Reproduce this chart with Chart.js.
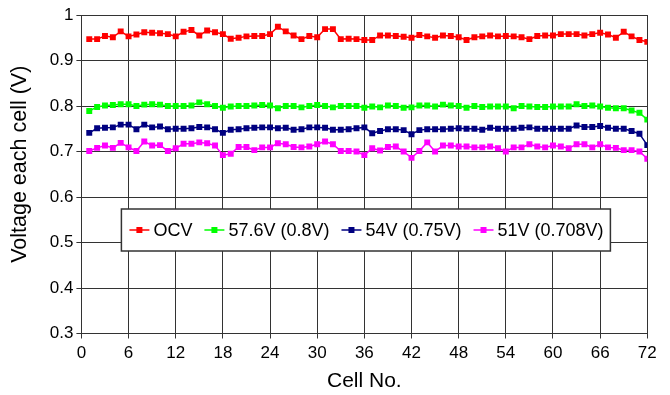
<!DOCTYPE html>
<html>
<head>
<meta charset="utf-8">
<script src="https://cdn.jsdelivr.net/npm/chart.js@4.4.1/dist/chart.umd.min.js"></script>
<style>
  html, body { margin: 0; padding: 0; background: #ffffff; }
  #wrap { width: 670px; height: 395px; position: relative; }
</style>
</head>
<body>
<div id="wrap"><canvas id="c" width="670" height="395"></canvas></div>
<script>
// ---- data ----
const cells = Array.from({length: 72}, (_, i) => i + 1);

const seriesLabels = ["OCV", "57.6V (0.8V)", "54V (0.75V)", "51V (0.708V)"];

const ocv = [
  0.947, 0.947, 0.954, 0.951, 0.964, 0.953, 0.957, 0.962, 0.961, 0.960, 0.958, 0.953,
  0.963, 0.967, 0.955, 0.966, 0.962, 0.958, 0.948, 0.950, 0.953, 0.954, 0.954, 0.958,
  0.974, 0.964, 0.955, 0.947, 0.954, 0.951, 0.969, 0.969, 0.947, 0.948, 0.947, 0.945,
  0.945, 0.955, 0.955, 0.954, 0.952, 0.950, 0.956, 0.953, 0.950, 0.955, 0.954, 0.951,
  0.945, 0.951, 0.953, 0.955, 0.953, 0.954, 0.953, 0.951, 0.947, 0.954, 0.955, 0.955,
  0.958, 0.958, 0.958, 0.955, 0.958, 0.961, 0.957, 0.950, 0.963, 0.953, 0.945, 0.941
];

const v576 = [
  0.789, 0.798, 0.801, 0.802, 0.804, 0.804, 0.800, 0.803, 0.804, 0.803, 0.800, 0.800,
  0.800, 0.801, 0.808, 0.804, 0.800, 0.796, 0.799, 0.800, 0.800, 0.801, 0.802, 0.801,
  0.795, 0.800, 0.800, 0.797, 0.800, 0.802, 0.800, 0.797, 0.800, 0.800, 0.800, 0.796,
  0.799, 0.797, 0.801, 0.800, 0.796, 0.797, 0.801, 0.801, 0.799, 0.803, 0.801, 0.800,
  0.796, 0.800, 0.798, 0.799, 0.799, 0.799, 0.795, 0.800, 0.799, 0.798, 0.798, 0.799,
  0.799, 0.799, 0.804, 0.800, 0.801, 0.799, 0.796, 0.795, 0.795, 0.790, 0.785, 0.770
];

const v54 = [
  0.741, 0.751, 0.752, 0.753, 0.759, 0.759, 0.749, 0.759, 0.753, 0.755, 0.749, 0.750,
  0.750, 0.751, 0.754, 0.753, 0.749, 0.741, 0.748, 0.749, 0.751, 0.752, 0.753, 0.753,
  0.751, 0.752, 0.748, 0.749, 0.753, 0.753, 0.752, 0.748, 0.748, 0.749, 0.751, 0.753,
  0.740, 0.745, 0.749, 0.749, 0.747, 0.738, 0.747, 0.749, 0.749, 0.749, 0.750, 0.751,
  0.750, 0.750, 0.748, 0.752, 0.750, 0.750, 0.750, 0.752, 0.753, 0.750, 0.750, 0.750,
  0.750, 0.750, 0.757, 0.754, 0.754, 0.756, 0.752, 0.750, 0.750, 0.745, 0.739, 0.714
];

const v51 = [
  0.701, 0.708, 0.713, 0.708, 0.719, 0.709, 0.701, 0.722, 0.713, 0.714, 0.701, 0.707,
  0.717, 0.717, 0.720, 0.718, 0.713, 0.692, 0.695, 0.710, 0.710, 0.703, 0.709, 0.709,
  0.718, 0.716, 0.710, 0.709, 0.711, 0.716, 0.722, 0.716, 0.701, 0.701, 0.700, 0.692,
  0.707, 0.702, 0.710, 0.711, 0.700, 0.686, 0.701, 0.720, 0.700, 0.713, 0.713, 0.711,
  0.711, 0.709, 0.709, 0.711, 0.707, 0.700, 0.709, 0.709, 0.716, 0.711, 0.709, 0.713,
  0.711, 0.707, 0.716, 0.716, 0.709, 0.716, 0.709, 0.708, 0.703, 0.703, 0.700, 0.684
];

const xTicks = [0, 6, 12, 18, 24, 30, 36, 42, 48, 54, 60, 66, 72];
const yTicks = [0.3, 0.4, 0.5, 0.6, 0.7, 0.8, 0.9, 1];
const yTickLabels = ["0.3", "0.4", "0.5", "0.6", "0.7", "0.8", "0.9", "1"];
const xTitle = "Cell No.";
const yTitle = "Voltage each cell (V)";

const colors = ["#ff0000", "#00ff00", "#000080", "#ff00ff"];
const allSeries = [ocv, v576, v54, v51];

const datasets = allSeries.map((vals, k) => ({
  label: seriesLabels[k],
  data: cells.map((c, i) => ({x: c, y: vals[i]})),
  borderColor: colors[k],
  backgroundColor: colors[k],
  borderWidth: 1.5,
  pointStyle: 'rect',
  pointRadius: 4.2,
  pointBorderWidth: 0,
  pointHoverRadius: 4.2,
  tension: 0
}));

const FONT = "'Liberation Sans', Arial, sans-serif";

// legend drawn inside plot area + y-axis title placed as in the reference
const innerLegend = {
  id: 'innerLegend',
  afterDraw(chart) {
    const ctx = chart.ctx;
    const ca = chart.chartArea;
    const x0 = ca.left + 40, y0 = ca.top + 194, w = 489, h = 42;
    ctx.save();
    ctx.fillStyle = '#ffffff';
    ctx.fillRect(x0, y0, w, h);
    ctx.strokeStyle = '#333333';
    ctx.lineWidth = 1.5;
    ctx.strokeRect(x0, y0, w, h);
    ctx.font = "18px " + FONT;
    ctx.textBaseline = 'middle';
    ctx.textAlign = 'left';
    let x = x0 + 8;
    const yc = y0 + h / 2;
    chart.data.datasets.forEach((ds, k) => {
      ctx.strokeStyle = ds.borderColor;
      ctx.lineWidth = 1.5;
      ctx.beginPath();
      ctx.moveTo(x, yc);
      ctx.lineTo(x + 20, yc);
      ctx.stroke();
      ctx.fillStyle = ds.backgroundColor;
      ctx.fillRect(x + 10 - 3, yc - 3, 6, 6);
      x += 24;
      ctx.fillStyle = '#000000';
      ctx.fillText(ds.label, x, yc + 1);
      x += ctx.measureText(ds.label).width + 12;
    });
    // y-axis title
    ctx.translate(20, ca.top + (ca.bottom - ca.top) / 2 - 10);
    ctx.rotate(-Math.PI / 2);
    ctx.font = "21.5px " + FONT;
    ctx.textAlign = 'center';
    ctx.textBaseline = 'middle';
    ctx.fillStyle = '#000';
    ctx.fillText(yTitle, 0, 0);
    ctx.restore();
  }
};

new Chart(document.getElementById('c'), {
  type: 'line',
  data: { datasets },
  plugins: [innerLegend],
  options: {
    responsive: false,
    animation: false,
    layout: { padding: { top: 15, right: 22.7, left: 0, bottom: 0 } },
    plugins: { legend: { display: false }, tooltip: { enabled: false } },
    scales: {
      x: {
        type: 'linear',
        min: 0, max: 72,
        afterBuildTicks: (s) => { s.ticks = xTicks.map(v => ({value: v})); },
        afterFit: (s) => { s.height = 61.5; },
        ticks: {
          color: '#000', font: { family: FONT, size: 17 }, padding: 5,
          maxRotation: 0, autoSkip: false,
          callback: (v) => String(v)
        },
        grid: { color: '#333333', lineWidth: 1, tickLength: 5, tickColor: '#333333' },
        border: { color: '#333333', width: 1 },
        title: { display: true, text: xTitle, color: '#000', font: { family: FONT, size: 21 }, padding: { top: 2, bottom: 1.5 } }
      },
      y: {
        type: 'linear',
        min: 0.3, max: 1,
        afterBuildTicks: (s) => { s.ticks = yTicks.map(v => ({value: v})); },
        afterFit: (s) => { s.width = 81.4; },
        ticks: {
          color: '#000', font: { family: FONT, size: 17 }, padding: 3,
          autoSkip: false,
          callback: (v) => { const i = yTicks.findIndex(t => Math.abs(t - v) < 1e-6); return i >= 0 ? yTickLabels[i] : ''; }
        },
        grid: { color: '#333333', lineWidth: 1, tickLength: 5, tickColor: '#333333' },
        border: { color: '#333333', width: 1 },
        title: { display: false, text: yTitle }
      }
    }
  }
});
</script>
</body>
</html>
